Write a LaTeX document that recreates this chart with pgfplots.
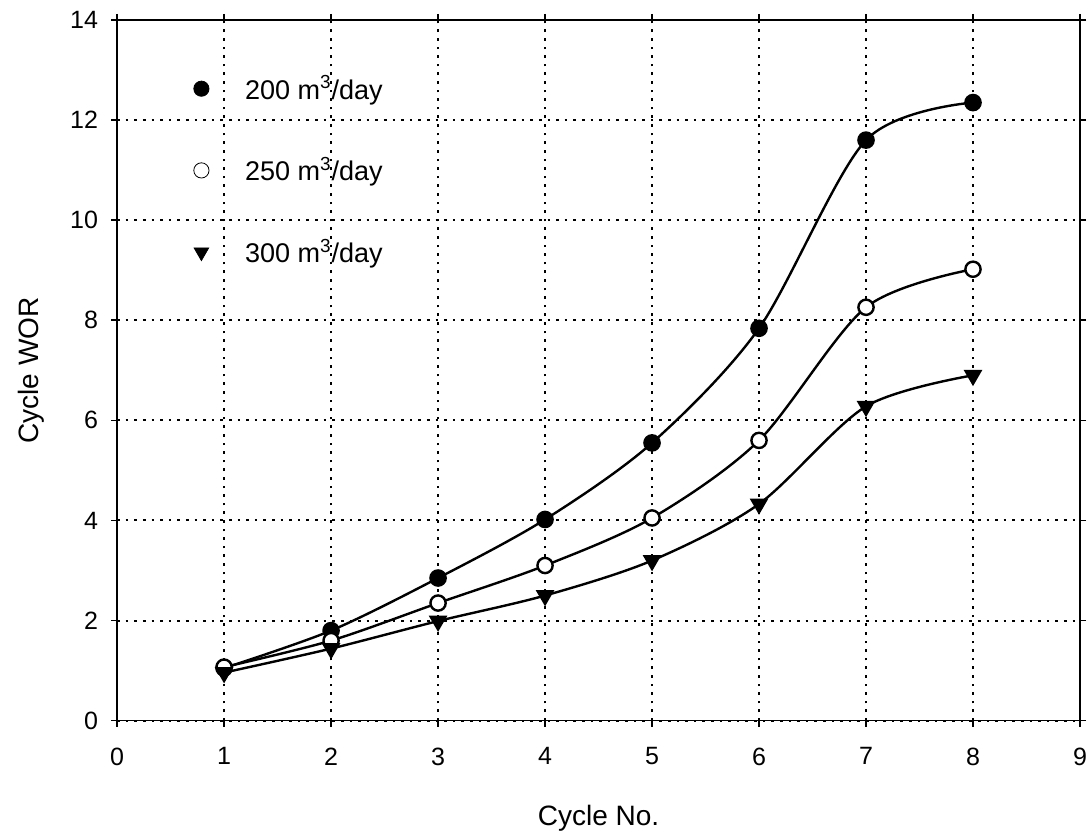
\documentclass[border=0pt]{standalone}
\usepackage{pgfplots}
\pgfplotsset{compat=1.18}
\usepackage{fontspec}
\setmainfont{Liberation Sans}
\begin{document}
\begin{tikzpicture}
\begin{axis}[
  scale only axis,
  width=481pt, height=350pt,
  xmin=0, xmax=9, ymin=0, ymax=14,
  xtick={0,1,...,9}, ytick={0,2,...,14},
  /pgf/number format/assume math mode=true,
  tick label style={font=\fontsize{12.5}{14}\selectfont},
  xticklabel style={yshift=-7pt},
  yticklabel style={xshift=-3pt},
  label style={font=\fontsize{14}{16}\selectfont},
  xlabel={Cycle No.}, ylabel={Cycle WOR},
  xlabel style={yshift=-13pt},
  ylabel style={yshift=6pt},
  grid=major,
  major grid style={black, line width=1pt, dash pattern=on 1.3pt off 3pt},
  axis line style={black, line width=0.8pt},
  tick align=outside, major tick length=3pt,
  tick style={black, line width=0.8pt},
  legend style={draw=none, fill=none, at={(0.073,0.933)}, anchor=north west,
    row sep=23.5pt, font=\fontsize{13.5}{15}\selectfont,
    /tikz/every odd column/.append style={column sep=16pt}},
  legend cell align=left,
]
\addplot[black, line width=1.2pt, smooth, mark=*, mark size=3.8pt, forget plot]
  coordinates {(1,1.05) (2,1.8) (3,2.85) (4,4.02) (5,5.55) (6,7.84) (7,11.6) (8,12.35)};
\addplot[black, line width=1.2pt, smooth, mark=*, mark size=3.8pt, mark options={fill=white}, forget plot]
  coordinates {(1,1.07) (2,1.6) (3,2.35) (4,3.1) (5,4.05) (6,5.6) (7,8.26) (8,9.02)};
\addplot[black, line width=1.2pt, smooth, mark=triangle*, mark size=4.2pt, mark options={rotate=180}, forget plot]
  coordinates {(1,0.96) (2,1.44) (3,1.99) (4,2.5) (5,3.2) (6,4.33) (7,6.28) (8,6.9)};
\addlegendimage{only marks, black, mark=*, mark size=3.8pt}
\addlegendentry{200 m\textsuperscript{3}/day}
\addlegendimage{only marks, black, mark=*, mark size=3.8pt, mark options={fill=white}}
\addlegendentry{250 m\textsuperscript{3}/day}
\addlegendimage{only marks, black, mark=triangle*, mark size=4.2pt, mark options={rotate=180}}
\addlegendentry{300 m\textsuperscript{3}/day}
\coordinate (ll) at (rel axis cs:0,0);
\coordinate (ur) at (rel axis cs:1,1);
\end{axis}
\pgfresetboundingbox
\path ([shift={(-58.5pt,-59pt)}]ll) rectangle ([shift={(3.5pt,10pt)}]ur);
\end{tikzpicture}
\end{document}
